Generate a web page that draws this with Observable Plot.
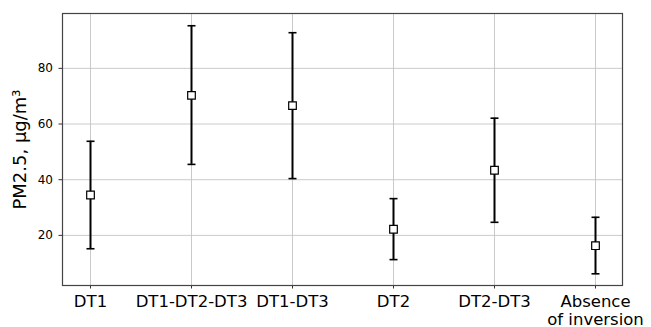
<!DOCTYPE html>
<html>
<head>
<meta charset="utf-8">
<script src="https://cdn.jsdelivr.net/npm/d3@7"></script>
<script src="https://cdn.jsdelivr.net/npm/@observablehq/plot@0.6"></script>
<style>
  html, body { margin: 0; padding: 0; background: #fff; }
</style>
</head>
<body>
<div id="chart"></div>
<script>
const categories = ["DT1", "DT1-DT2-DT3", "DT1-DT3", "DT2", "DT2-DT3", "Absence\nof inversion"];
const means = [34.5, 70.3, 66.6, 22.2, 43.4, 16.3];
const upper = [53.8, 95.3, 92.8, 33.2, 62.1, 26.5];
const lower = [15.2, 45.5, 40.4, 11.3, 24.7, 6.2];
const yTicks = [20, 40, 60, 80];

const data = categories.map((c, i) => ({cat: c, mean: means[i], hi: upper[i], lo: lower[i]}));

const capSymbol = {
  draw(context, size) {
    const r = Math.sqrt(size / Math.PI);
    context.moveTo(-r, 0);
    context.lineTo(r, 0);
  }
};

const chart = Plot.plot({
  width: 651,
  height: 327,
  marginLeft: 62,
  marginRight: 29,
  marginTop: 13,
  marginBottom: 42,
  style: {fontFamily: "DejaVu Sans", fontSize: "12px", color: "#000", background: "#fff"},
  x: {type: "point", domain: categories, padding: 0.253},
  y: {domain: [2, 99.7]},
  marks: [
    Plot.gridX(categories, {stroke: "#c4c4c4", strokeOpacity: 1, strokeWidth: 0.9}),
    Plot.gridY(yTicks, {stroke: "#c4c4c4", strokeOpacity: 1, strokeWidth: 0.9}),
    Plot.axisY(yTicks, {
      tickSize: 3.5, tickPadding: 6, fontSize: 12, stroke: "#333",
      label: "PM2.5, μg/m³", labelAnchor: "center", labelArrow: "none", labelOffset: 49
    }),
    Plot.axisX({
      tickSize: 3.5, tickPadding: 5.5, fontSize: 16.5, lineHeight: 1.07, stroke: "#333",
      label: null
    }),
    Plot.ruleX(data, {x: "cat", y1: "lo", y2: "hi", stroke: "#000", strokeWidth: 2}),
    Plot.dot(data, {x: "cat", y: "hi", symbol: capSymbol, r: 4, stroke: "#000", strokeWidth: 1.6, fill: "none"}),
    Plot.dot(data, {x: "cat", y: "lo", symbol: capSymbol, r: 4, stroke: "#000", strokeWidth: 1.6, fill: "none"}),
    Plot.dot(data, {x: "cat", y: "mean", symbol: "square", r: 4.3, fill: "#fff", stroke: "#000", strokeWidth: 1.2}),
    Plot.frame({stroke: "#444", strokeWidth: 1.2})
  ]
});
chart.querySelectorAll("g[aria-label='y-axis label'] text").forEach(t => t.setAttribute("font-size", "18"));
document.getElementById("chart").appendChild(chart);
</script>
</body>
</html>
